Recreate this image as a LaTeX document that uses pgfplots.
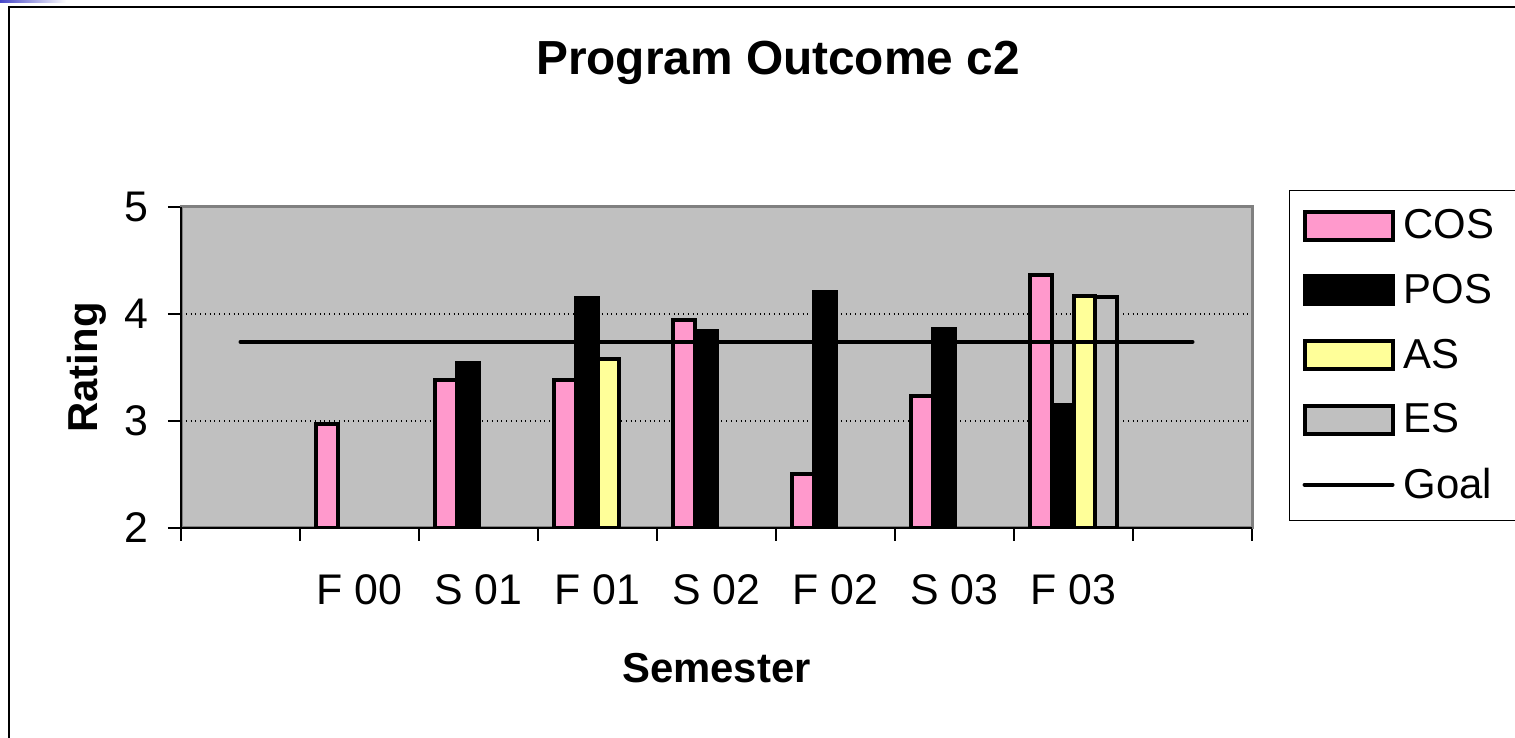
\documentclass[border=0pt]{standalone}
\usepackage{fontspec}
\setmainfont{Liberation Sans}
\usepackage{pgfplots}
\pgfplotsset{compat=1.18}
\definecolor{cospink}{HTML}{FF99CC}
\definecolor{asyellow}{HTML}{FFFF99}
\definecolor{plotgray}{HTML}{C0C0C0}
\definecolor{bordergray}{HTML}{808080}
\pgfplotsset{
  barleg/.style={legend image code/.code={\draw[##1] (0bp,-7bp) rectangle (44bp,7bp);}},
  lineleg/.style={legend image code/.code={\draw[##1] (0bp,0bp) -- (44bp,0bp);}},
}
\begin{document}
\begin{tikzpicture}
\shade[left color={rgb,255:red,70;green,70;blue,200}, right color=white] (0bp,367.6bp) rectangle (33bp,369bp);
\draw[black, line width=1bp] (4.25bp,365.25bp) rectangle (775bp,-10bp);
\node[font=\bfseries\fontsize{24}{28}\selectfont, anchor=base] at (389bp,331.5bp) {Program Outcome c2};
\begin{axis}[
  at={(90.5bp,105bp)}, anchor=south west,
  scale only axis, width=535.5bp, height=160.5bp,
  xmin=-0.5, xmax=8.5, ymin=2, ymax=5,
  xtick={-0.5,0.5,1.5,2.5,3.5,4.5,5.5,6.5,7.5,8.5},
  x tick label as interval,
  xticklabels={{},F 00,S 01,F 01,S 02,F 02,S 03,F 03,{}},
  ytick={2,3,4,5},
  tick pos=left, tick align=outside,
  major tick length=6.5bp,
  major tick style={black, line width=0.75bp},
  ticklabel style={font=\fontsize{21.5}{24}\selectfont},
  xticklabel style={yshift=-13.5bp},
  yticklabel style={xshift=-6.5bp},
  /pgf/number format/assume math mode=true,
  ymajorgrids, grid style={black, dotted, line width=0.6bp},
  axis background/.style={fill=plotgray},
  axis line style={draw=bordergray, line width=1.5bp},
  xlabel={Semester}, ylabel={Rating},
  label style={font=\bfseries\fontsize{21}{24}\selectfont},
  xlabel style={at={(axis description cs:0.5,-0.480)}, anchor=base},
  ylabel style={at={(axis description cs:-0.0784,0.5)}, anchor=base},
  legend cell align=left,
  legend style={at={(axis description cs:1.0345,1.053)}, anchor=north west,
    draw=black, line width=0.6bp, fill=white, inner xsep=6.5bp, inner ysep=9.5bp,
    font=\fontsize{21}{25}\selectfont, row sep=16.2bp, column sep=4.5bp,
    nodes={inner sep=0pt, text width=52bp, align=left}},
  after end axis/.code={\draw[black,line width=1bp] (rel axis cs:0,1) -- (rel axis cs:0,0) -- (rel axis cs:1,0);},
]
\addplot[ybar, bar width=0.182, bar shift=-0.273, fill=cospink, draw=black, line width=2bp, barleg]
  coordinates {(1,2.97) (2,3.38) (3,3.38) (4,3.94) (5,2.50) (6,3.23) (7,4.36)};
\addlegendentry{COS}
\addplot[ybar, bar width=0.182, bar shift=-0.091, fill=black, draw=black, line width=2bp, barleg]
  coordinates {(2,3.54) (3,4.15) (4,3.84) (5,4.21) (6,3.86) (7,3.15)};
\addlegendentry{POS}
\addplot[ybar, bar width=0.182, bar shift=0.091, fill=asyellow, draw=black, line width=2bp, barleg]
  coordinates {(3,3.58) (7,4.17)};
\addlegendentry{AS}
\addplot[ybar, bar width=0.182, bar shift=0.273, fill=plotgray, draw=black, line width=2bp, barleg]
  coordinates {(7,4.16)};
\addlegendentry{ES}
\addplot[sharp plot, no marks, black, line width=2bp, line cap=round, lineleg]
  coordinates {(0,3.74) (1,3.74) (2,3.74) (3,3.74) (4,3.74) (5,3.74) (6,3.74) (7,3.74) (8,3.74)};
\addlegendentry{Goal}
\end{axis}
\pgfresetboundingbox
\useasboundingbox (0bp,0bp) rectangle (757.5bp,369bp);
\end{tikzpicture}
\end{document}
